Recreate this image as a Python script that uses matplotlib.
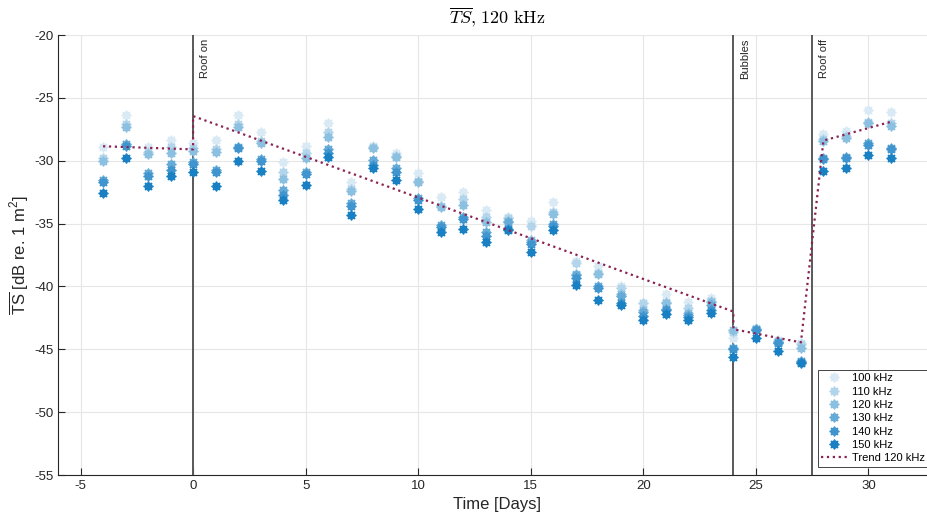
import numpy as np
import matplotlib
matplotlib.use('Agg')
import matplotlib.pyplot as plt
from matplotlib.legend_handler import HandlerTuple

plt.rcParams['font.family'] = ['Liberation Sans', 'DejaVu Sans']
plt.rcParams['mathtext.fontset'] = 'custom'
plt.rcParams['mathtext.rm'] = 'Liberation Sans'
plt.rcParams['mathtext.it'] = 'Liberation Sans:italic'
plt.rcParams['axes.unicode_minus'] = False

# Days of measurement
days = list(range(-4, 32))

# Mean TS per day for each frequency [dB re. 1 m^2]
ts_100 = [-28.9, -26.4, -28.9, -28.35, -28.6, -28.35, -26.4, -27.75, -30.1, -28.8, -27.0, -31.7,
          -28.85, -29.4, -30.95, -32.9, -32.45, -33.9, -34.45, -34.8, -33.25, -38.0, -38.4, -40.0,
          -41.3, -40.6, -41.2, -40.95, -44.1, -43.3, -44.3, -44.5, -27.9, -27.6, -26.0, -26.15]
ts_110 = [-29.8, -27.1, -29.3, -28.9, -29.0, -29.1, -27.1, -28.4, -30.9, -29.4, -27.75, -32.25,
          -28.9, -29.6, -31.6, -33.6, -33.05, -34.45, -34.55, -35.2, -34.1, -38.1, -38.9, -40.1,
          -41.35, -41.2, -41.75, -41.15, -43.6, -43.4, -44.35, -44.6, -28.3, -28.0, -26.9, -27.0]
ts_120 = [-30.0, -27.3, -29.5, -29.4, -29.2, -29.3, -27.3, -28.6, -31.45, -29.8, -28.15, -32.4,
          -29.0, -29.7, -31.7, -33.7, -33.5, -34.9, -34.8, -36.3, -34.2, -39.0, -39.0, -40.6,
          -41.9, -41.3, -42.15, -41.25, -43.5, -43.45, -44.4, -44.9, -28.45, -28.2, -27.0, -27.25]
ts_130 = [-31.5, -28.7, -31.0, -30.3, -30.1, -30.7, -28.9, -29.9, -32.3, -30.9, -29.1, -33.4,
          -29.95, -30.55, -33.0, -35.1, -34.5, -35.7, -34.9, -36.5, -35.0, -39.1, -40.0, -40.8,
          -42.0, -41.8, -42.25, -41.5, -44.9, -43.4, -44.45, -45.9, -29.8, -29.7, -28.6, -29.0]
ts_140 = [-31.7, -28.8, -31.2, -30.7, -30.3, -30.9, -29.0, -30.0, -32.7, -31.05, -29.4, -33.6,
          -30.35, -30.9, -33.15, -35.25, -34.6, -36.0, -35.45, -36.6, -35.2, -39.3, -40.1, -41.3,
          -42.35, -41.9, -42.4, -41.9, -44.95, -43.45, -44.5, -46.0, -29.9, -29.8, -28.75, -29.1]
ts_150 = [-32.6, -29.8, -32.0, -31.2, -30.9, -32.0, -30.0, -30.8, -33.1, -31.9, -29.7, -34.3,
          -30.6, -31.5, -33.85, -35.7, -35.45, -36.45, -35.55, -37.3, -35.5, -39.85, -41.1, -41.45,
          -42.7, -42.2, -42.7, -42.15, -45.6, -44.1, -45.15, -46.1, -30.8, -30.6, -29.55, -29.8]

freq_labels = ['100 kHz', '110 kHz', '120 kHz', '130 kHz', '140 kHz', '150 kHz']
alphas = [0.15, 0.3, 0.45, 0.6, 0.75, 0.9]

# Piecewise trend for 120 kHz
trend_x = [-4, 0, 0, 24, 24, 27, 28, 31]
trend_y = [-28.85, -29.1, -26.45, -42.0, -43.4, -44.45, -28.4, -26.9]

# Events
event_days = [0, 24, 27.5]
event_labels = ['Roof on', 'Bubbles', 'Roof off']

base = np.array([0, 114, 189]) / 255.0

fig = plt.figure(figsize=(9.27, 5.22), dpi=100)
ax = fig.add_axes([58 / 927, 1 - 475 / 522, 878 / 927, 440 / 522])

handles = []
for vals, a in zip([ts_100, ts_110, ts_120, ts_130, ts_140, ts_150], alphas):
    c = 1 - a * (1 - base)
    h1, = ax.plot(days, vals, linestyle='none', marker='o', ms=6, color=c, mec='none')
    h2, = ax.plot(days, vals, linestyle='none', marker=(8, 2, 0), ms=7, color=c, mew=1.0)
    handles.append((h1, h2))

for d, lab in zip(event_days, event_labels):
    ax.axvline(d, color='#595959', lw=1.4, zorder=1)
    ax.text(d + 0.3, -20.3, lab, rotation=90, ha='left', va='top', fontsize=8, color='#262626')

h_trend, = ax.plot(trend_x, trend_y, linestyle=':', color='#8B2252', lw=1.6)

ax.set_xlim(-6, 33)
ax.set_ylim(-55, -20)
ax.set_xticks(range(-5, 35, 5))
ax.set_yticks(range(-55, -15, 5))
ax.grid(True, color='#e6e6e6', lw=0.8)
ax.set_axisbelow(True)
for s in ['top', 'right']:
    ax.spines[s].set_visible(False)
for s in ['left', 'bottom']:
    ax.spines[s].set_color('#262626')
    ax.spines[s].set_linewidth(0.8)
ax.tick_params(direction='in', length=5, labelsize=9.5, colors='#262626', width=0.8)

ax.set_xlabel('Time [Days]', fontsize=12, color='#262626', labelpad=4)
ax.set_ylabel(r'$\overline{\mathrm{TS}}$ [dB re. 1 m$^2$]', fontsize=12, color='#262626', labelpad=2)
ax.set_title(r'$\overline{TS}\mathrm{,}\ \mathrm{120}\ \mathrm{kHz}$', fontsize=13,
             math_fontfamily='cm', pad=8)

leg = ax.legend(handles + [h_trend], freq_labels + ['Trend 120 kHz'],
                handler_map={tuple: HandlerTuple(ndivide=1, pad=0)},
                loc='upper left', bbox_to_anchor=(818 / 927, 1 - 370 / 522),
                bbox_transform=fig.transFigure, fontsize=8, fancybox=False,
                framealpha=1, edgecolor='#262626', borderpad=0.3, labelspacing=0.3,
                handlelength=2.3, handletextpad=0.5, borderaxespad=0)
leg.get_frame().set_linewidth(0.6)

plt.savefig('out.png', dpi=100)
